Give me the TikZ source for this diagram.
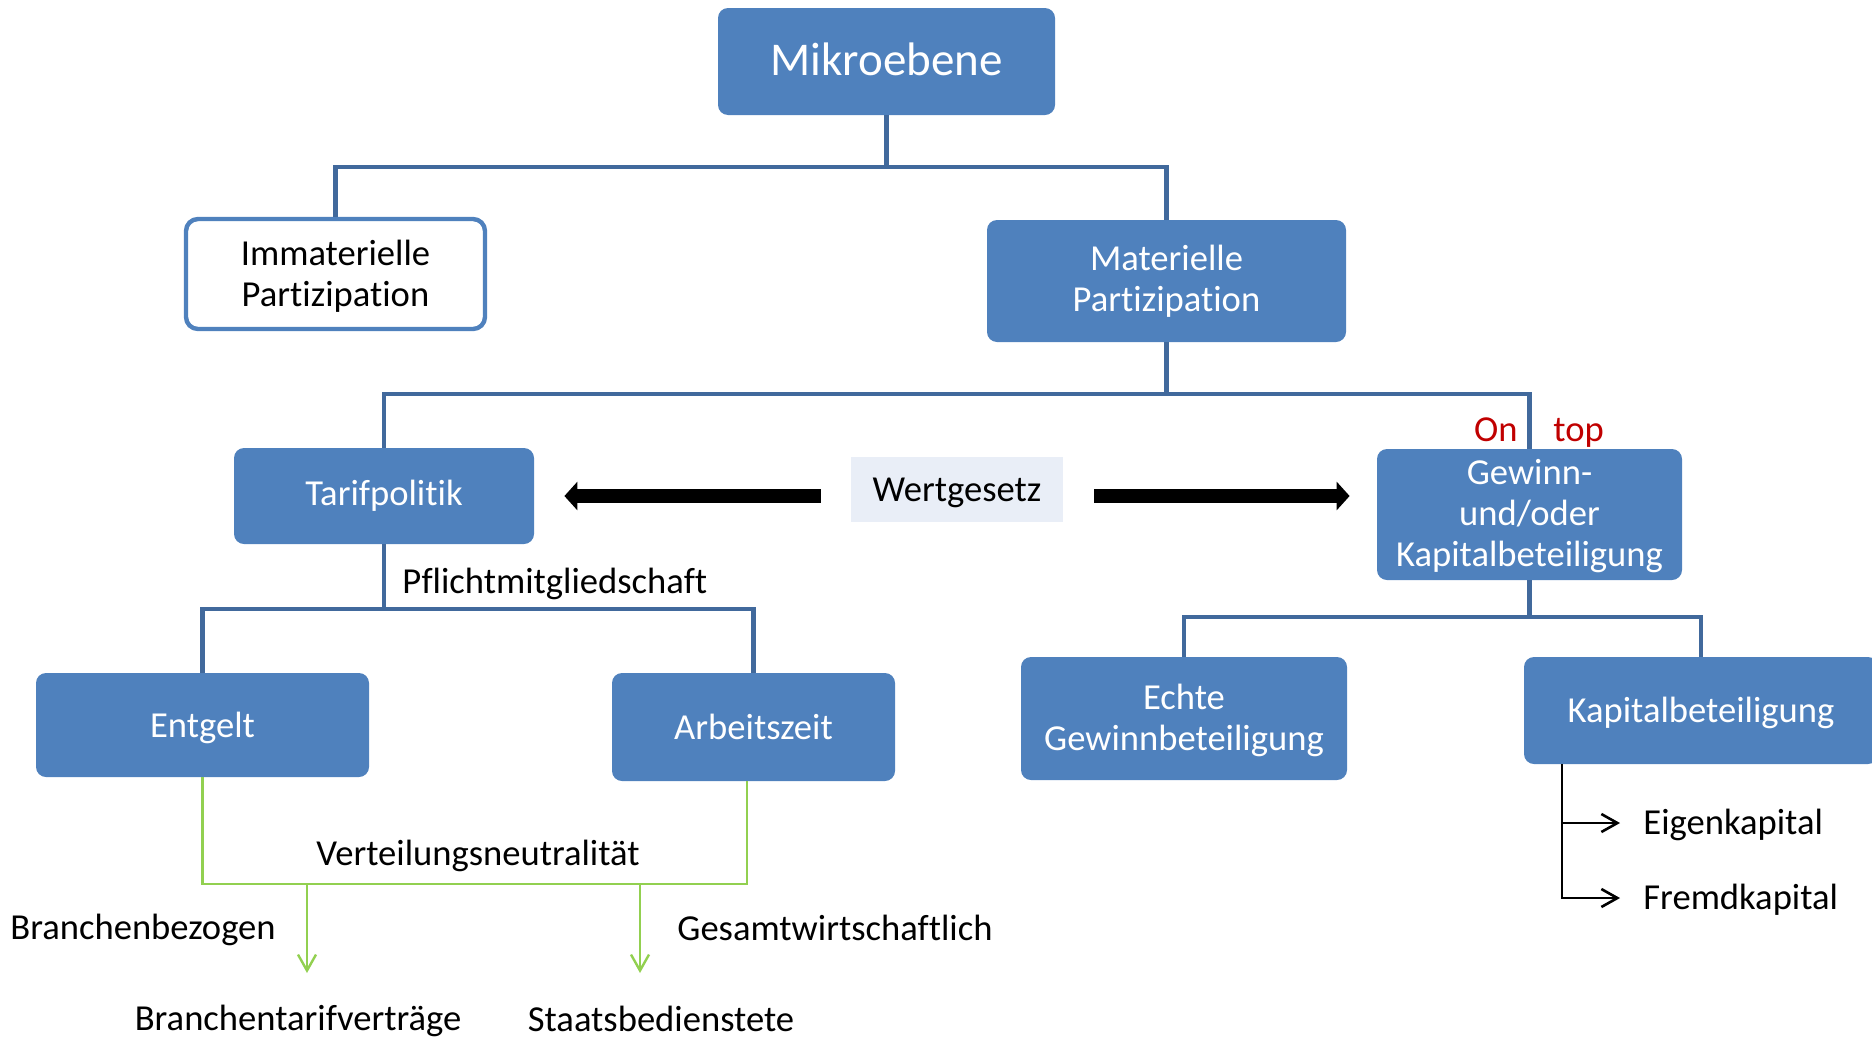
\documentclass[tikz,border=0pt]{standalone}
\usepackage{fontspec}
\setmainfont{Carlito}[RawFeature={-liga;-clig;-calt;-dlig}]
\usetikzlibrary{arrows.meta}
\definecolor{boxblue}{HTML}{4F81BD}
\definecolor{linkblue}{HTML}{41699C}
\definecolor{paleblue}{HTML}{E9EEF7}
\definecolor{leafgreen}{HTML}{92D050}
\definecolor{accentred}{HTML}{C00000}
\newcommand\txtfont{\fontsize{18.3pt}{20.5pt}\selectfont}
\newcommand\titlefont{\fontsize{23.5pt}{28pt}\selectfont}
\begin{document}
\begin{tikzpicture}[x=0.5pt,y=-0.5pt,
  bluebox/.style={rectangle, rounded corners=5pt, fill=boxblue, text=white,
    align=center, inner sep=0pt, font=\txtfont},
  whitebox/.style={rectangle, rounded corners=6pt, draw=boxblue, line width=2.2pt,
    fill=white, align=center, inner sep=0pt, font=\txtfont},
  tree/.style={draw=linkblue, line width=2.2pt},
  plain/.style={font=\txtfont, inner sep=0pt},
  greenlink/.style={draw=leafgreen, line width=1.2pt},
  greenarrow/.style={greenlink, -{Straight Barb[length=8pt,width=9pt]}},
  blackarrow/.style={draw=black, line width=1.3pt, -{Straight Barb[length=8pt,width=9pt]}},
  fatarrow/.style={draw=black, line width=7pt, -{Triangle[length=6.5pt,width=14pt]}}
]
\useasboundingbox (0,0) rectangle (1872,1039);

% boxes
\node[bluebox, minimum width=168.5pt, minimum height=53.5pt, font=\titlefont, text depth=2.4pt] (mikro) at (886.5,61.5) {Mikroebene};
\node[whitebox, minimum width=149.5pt, minimum height=55pt, text depth=1.2pt] (immat) at (335.5,274) {Immaterielle\\Partizipation};
\node[bluebox, minimum width=179.5pt, minimum height=61pt] (mater) at (1166.5,281) {Materielle\\Partizipation};
\node[bluebox, minimum width=150pt, minimum height=48pt] (tarif) at (384,496) {Tarifpolitik};
\node[rectangle, fill=paleblue, minimum width=106pt, minimum height=32.5pt, font=\txtfont, inner sep=0pt, text depth=-1.4pt] (wert) at (957,489.5) {Wertgesetz};
\node[bluebox, minimum width=152.5pt, minimum height=65.5pt, text depth=1.2pt] (gew) at (1529.5,514.5) {Gewinn-\\und/oder\\Kapitalbeteiligung};
\node[bluebox, minimum width=166.5pt, minimum height=52pt, text depth=0pt] (entg) at (202.5,725) {Entgelt};
\node[bluebox, minimum width=141.5pt, minimum height=54pt] (arb) at (753.5,727) {Arbeitszeit};
\node[bluebox, minimum width=163pt, minimum height=61.5pt, text depth=1.2pt] (echt) at (1184,718.5) {Echte\\Gewinnbeteiligung};
\node[bluebox, minimum width=177pt, minimum height=53.5pt, text depth=1.2pt] (kap) at (1701,710.5) {Kapitalbeteiligung};

% tree connectors
\coordinate (j1) at (886.5,167);
\coordinate (j2) at (1166.5,394);
\coordinate (j3) at (384,609);
\coordinate (j4) at (1529.5,617);
\draw[tree] (mikro.south) -- (j1) -| (immat.north);
\draw[tree] (j1) -| (mater.north);
\draw[tree] (mater.south) -- (j2) -| (tarif.north);
\draw[tree] (j2) -| (gew.north);
\draw[tree] (tarif.south) -- (j3) -| (entg.north);
\draw[tree] (j3) -| (arb.north);
\draw[tree] (gew.south) -- (j4) -| (echt.north);
\draw[tree] (j4) -| (kap.north);

% labels
\node[plain, anchor=west] (pflicht) at (402,583.5) {Pflichtmitgliedschaft};
\node[plain, text=accentred, anchor=east] (on) at (1518,430) {On};
\node[plain, text=accentred, anchor=west] (top) at (1553,432.4) {top};

% Wertgesetz arrows
\draw[fatarrow, shorten <=15pt, shorten >=15pt] (wert.west |- tarif.east) -- (tarif.east);
\draw[fatarrow, shorten <=15.5pt, shorten >=13.5pt] (wert.east |- tarif.east) -- (gew.west |- tarif.east);

% distribution branch
\coordinate (gb) at (747,884);
\coordinate (g1) at (307,884);
\coordinate (g2) at (640,884);
\coordinate (t1) at (307,973);
\coordinate (t2) at (640,973);
\draw[greenlink] (entg.south) |- (gb) -- (gb |- arb.south);
\draw[greenarrow] (g1) -- (t1);
\draw[greenarrow] (g2) -- (t2);
\node[plain] (vert) at (478,856.4) {Verteilungsneutralität};
\node[plain, anchor=west] (bbez) at (10,930.4) {Branchenbezogen};
\node[plain, anchor=west] (gesw) at (677,928) {Gesamtwirtschaftlich};
\node[plain] (btv) at (298,1021.4) {Branchentarifverträge};
\node[plain] (staat) at (661,1019) {Staatsbedienstete};

% capital forms
\coordinate (kx) at (1562,0);
\node[plain, anchor=west, inner xsep=11.5pt, text depth=1.2pt] (eigen) at (1620,823) {Eigenkapital};
\node[plain, anchor=west, inner xsep=11.5pt, text depth=1.2pt] (fremd) at (1620,898) {Fremdkapital};
\draw[blackarrow] (kx |- kap.south) |- (eigen.west);
\draw[blackarrow] (kx |- kap.south) |- (fremd.west);
\end{tikzpicture}
\end{document}
